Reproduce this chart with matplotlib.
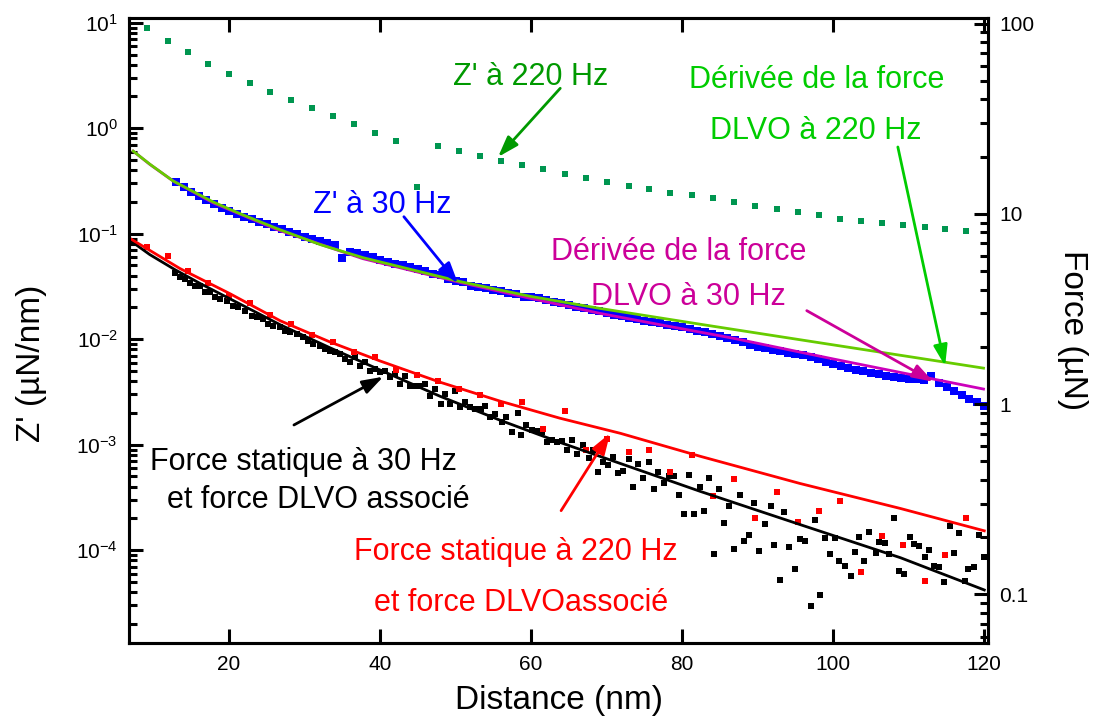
import matplotlib

matplotlib.use("Agg")
import matplotlib.pyplot as plt
from matplotlib.ticker import FuncFormatter, LogLocator, NullFormatter

plt.rcParams["font.family"] = ["Liberation Sans", "DejaVu Sans"]
plt.rcParams["axes.unicode_minus"] = False

# --- mesures a 220 Hz (meme grille de distance pour Z' et la force) ---
x220 = [9.1, 11.9, 14.5, 17.2, 20.0, 22.8, 25.4, 28.2, 31.0, 33.8,
        36.6, 39.3, 42.1, 44.9, 47.7, 50.5, 53.2, 56.0, 58.8, 61.6,
        64.5, 67.3, 70.1, 72.9, 75.6, 78.4, 81.3, 84.1, 86.9, 89.7,
        92.6, 95.4, 98.1, 100.9, 103.7, 106.5, 109.3, 112.1, 114.8, 117.6]
z220 = [8.97, 6.77, 5.25, 4.10, 3.25, 2.68, 2.20, 1.84, 1.55, 1.31,
        1.10, 0.903, 0.759, 0.279, 0.676, 0.607, 0.544, 0.488, 0.448, 0.411,
        0.371, 0.340, 0.311, 0.286, 0.266, 0.244, 0.233, 0.219, 0.202, 0.183,
        0.172, 0.159, 0.152, 0.139, 0.133, 0.127, 0.122, 0.117, 0.112, 0.107]
f220 = [6.70, 6.02, 4.99, 4.31, 3.69, 3.39, 2.94, 2.63, 2.31, 2.11,
        1.89, 1.78, 1.52, 1.42, 1.33, 1.196, 1.122, 1.004, 1.021, 0.742,
        0.922, 0.575, 0.654, 0.560, 0.574, 0.442, 0.538, 0.331, 0.402, 0.251,
        0.345, 0.239, 0.273, 0.309, 0.131, 0.204, 0.183, 0.118, 0.162, 0.251]

# --- Z' a 30 Hz ---
x30z = list(range(13, 121))
z30 = [0.309, 0.278, 0.249, 0.228, 0.209, 0.192, 0.176, 0.165, 0.154, 0.145,
       0.137, 0.130, 0.123, 0.116, 0.110, 0.104, 0.0989, 0.0937, 0.0897, 0.0859,
       0.0823, 0.0787, 0.0594, 0.0676, 0.0662, 0.0634, 0.0607, 0.0568, 0.0544, 0.0521,
       0.0510, 0.0488, 0.0468, 0.0448, 0.0419, 0.0402, 0.0376, 0.0360, 0.0345, 0.0323,
       0.0310, 0.0303, 0.0290, 0.0284, 0.0272, 0.0266, 0.0254, 0.0249, 0.0244, 0.0233,
       0.0223, 0.0219, 0.0209, 0.0200, 0.0196, 0.0188, 0.0184, 0.0176, 0.0168, 0.0165,
       0.0158, 0.0154, 0.0148, 0.0145, 0.0142, 0.0136, 0.0133, 0.0130, 0.0124, 0.0119,
       0.0116, 0.0111, 0.0107, 0.0102, 0.00979, 0.00937, 0.00878, 0.00841, 0.00823, 0.00787,
       0.00770, 0.00738, 0.00722, 0.00707, 0.00676, 0.00648, 0.00607, 0.00581, 0.00556, 0.00533,
       0.00510, 0.00499, 0.00478, 0.00467, 0.00448, 0.00438, 0.00429, 0.00419, 0.00419, 0.00410,
       0.00448, 0.00385, 0.00352, 0.00323, 0.00296, 0.00272, 0.00254, 0.00233]

# --- force statique a 30 Hz ---
x30f = [12.9, 13.5, 14.2, 14.8, 15.5, 16.2, 16.8, 17.5, 18.2, 18.8,
        19.7, 20.5, 21.2, 22.1, 23.1, 23.7, 24.5, 25.2, 25.8, 26.8,
        27.4, 28.1, 29.0, 29.8, 30.5, 31.1, 32.1, 32.7, 33.4, 34.0,
        34.7, 35.4, 36.0, 36.7, 37.4, 38.0, 38.7, 39.3, 40.0, 40.7,
        41.3, 42.0, 42.7, 43.3, 44.0, 44.6, 45.3, 46.0, 46.6, 47.3,
        48.0, 48.6, 49.3, 49.9, 50.6, 51.3, 51.9, 52.6, 53.3, 53.9,
        54.6, 55.2, 56.2, 56.7, 57.4, 58.2, 58.7, 59.3, 60.1, 60.8,
        61.5, 62.1, 62.8, 63.4, 64.1, 64.8, 65.4, 66.1, 66.9, 67.6,
        68.2, 68.9, 69.5, 70.2, 70.9, 71.5, 72.2, 72.9, 73.5, 74.2,
        74.8, 75.6, 76.3, 76.8, 77.6, 78.3, 78.9, 79.6, 80.3, 80.9,
        81.6, 82.3, 82.9, 83.6, 84.2, 84.9, 85.6, 86.2, 86.9, 87.6,
        88.2, 88.9, 89.5, 90.2, 91.0, 91.7, 92.2, 92.9, 93.5, 94.2,
        95.0, 95.6, 96.2, 97.0, 97.6, 98.2, 98.9, 99.6, 100.3, 100.8,
        101.6, 102.3, 102.9, 103.4, 104.1, 104.8, 105.6, 106.1, 106.8, 107.4,
        108.1, 108.7, 109.4, 110.1, 110.7, 111.4, 112.1, 112.7, 113.4, 114.0,
        114.7, 115.4, 116.0, 116.7, 117.4, 117.9, 118.7, 119.3, 120.0]
f30 = [4.91, 4.68, 4.57, 4.35, 4.20, 4.20, 3.90, 3.90, 3.67, 3.58,
       3.50, 3.29, 3.25, 3.10, 2.91, 2.88, 2.81, 2.64, 2.58, 2.55,
       2.43, 2.40, 2.34, 2.26, 2.15, 2.07, 2.02, 1.95, 1.90, 1.88,
       1.84, 1.73, 1.67, 1.77, 1.59, 1.67, 1.49, 1.53, 1.48, 1.49,
       1.39, 1.44, 1.28, 1.41, 1.25, 1.25, 1.25, 1.28, 1.10, 1.20,
       1.00, 1.13, 1.00, 1.17, 0.964, 1.03, 0.964, 0.941, 0.941, 0.976,
       0.854, 0.886, 0.804, 0.854, 0.711, 0.897, 0.686, 0.775, 0.729, 0.720,
       0.711, 0.630, 0.646, 0.630, 0.638, 0.572, 0.646, 0.545, 0.608, 0.519,
       0.572, 0.438, 0.494, 0.477, 0.525, 0.433, 0.443, 0.513, 0.365, 0.482,
       0.407, 0.494, 0.360, 0.438, 0.383, 0.417, 0.417, 0.335, 0.266, 0.422,
       0.266, 0.369, 0.276, 0.407, 0.164, 0.360, 0.238, 0.290, 0.174, 0.335,
       0.192, 0.206, 0.304, 0.170, 0.235, 0.290, 0.183, 0.119, 0.272, 0.178,
       0.136, 0.196, 0.192, 0.087, 0.247, 0.0994, 0.199, 0.164, 0.199, 0.150,
       0.141, 0.125, 0.168, 0.201, 0.150, 0.214, 0.166, 0.189, 0.187, 0.164,
       0.253, 0.133, 0.128, 0.201, 0.185, 0.180, 0.158, 0.172, 0.141, 0.140,
       0.116, 0.230, 0.166, 0.211, 0.118, 0.136, 0.140, 0.206, 0.158]

# --- courbes DLVO ---
deriv220_x = [7.3, 9.5, 12.6, 17.9, 21.5, 26.4, 32.1, 37.7, 50.6, 59.9,
              69.1, 84.1, 95.6, 107.5, 119.9]
deriv220_z = [0.607, 0.457, 0.316, 0.200, 0.1545, 0.1115, 0.0788, 0.0594, 0.0352, 0.0255,
              0.0196, 0.01327, 0.00989, 0.0073, 0.00532]
deriv30_x = [7.3, 9.5, 12.6, 17.9, 26.4, 37.7, 50.6, 59.9, 69.1, 77.5,
             86.8, 100.0, 113.2, 119.9]
deriv30_z = [0.607, 0.455, 0.316, 0.196, 0.109, 0.0581, 0.0345, 0.0244, 0.01759, 0.01355,
             0.0102, 0.0065, 0.0042, 0.00337]
dlvo30_x = [6.9, 9.5, 12.8, 16.2, 20.1, 26.8, 33.4, 40.0, 47.9, 55.9,
            63.8, 71.8, 82.4, 95.6, 108.9, 120.0]
dlvo30_f = [7.25, 6.11, 5.10, 4.30, 3.58, 2.61, 1.975, 1.512, 1.102, 0.823,
            0.630, 0.488, 0.348, 0.233, 0.156, 0.1056]
dlvo220_x = [6.9, 13.5, 20.1, 26.8, 33.4, 40.0, 47.9, 55.9, 63.8, 71.8,
             82.4, 95.6, 108.9, 120.0]
dlvo220_f = [7.42, 5.16, 3.81, 2.74, 2.12, 1.686, 1.306, 1.037, 0.844, 0.703,
             0.532, 0.383, 0.283, 0.216]

fig = plt.figure(figsize=(10.96, 7.28), dpi=100)
ax = fig.add_axes([0.1177, 0.1168, 0.7838, 0.8585])
ax2 = ax.twinx()

ax.plot(x30z, z30, "s", color="#0000ff", ms=5.8, mew=0)
ax.plot(deriv30_x, deriv30_z, color="#cc00bb", lw=2)
ax.plot(deriv220_x, deriv220_z, color="#66cc00", lw=2)
ax.plot(x220, z220, "s", color="#009650", ms=5.0, mew=0)

ax2.plot(x30f, f30, "s", color="black", ms=5.0, mew=0)
ax2.plot(x220, f220, "s", color="#ff0000", ms=5.0, mew=0)
ax2.plot(dlvo30_x, dlvo30_f, color="black", lw=2)
ax2.plot(dlvo220_x, dlvo220_f, color="#ff0000", lw=2)

ax.set_xlim(6.75, 120.5)
ax.set_yscale("log")
ax2.set_yscale("log")
ax.set_ylim(1.32e-5, 11.1)
ax2.set_ylim(0.0556, 107)

ax.set_xticks([20, 40, 60, 80, 100, 120])
ax.tick_params(axis="x", direction="in", top=True, length=10, width=2.2,
               labelsize=15, pad=9)
for a in (ax, ax2):
    a.yaxis.set_major_locator(LogLocator(base=10, numticks=20))
    a.yaxis.set_minor_locator(LogLocator(base=10, subs=range(2, 10), numticks=20))
    a.yaxis.set_minor_formatter(NullFormatter())
    a.tick_params(axis="y", which="major", direction="in", length=10, width=2.2,
                  labelsize=15, pad=8)
    a.tick_params(axis="y", which="minor", direction="in", length=5.5, width=2.2)
    for sp in a.spines.values():
        sp.set_linewidth(2.2)
ax.tick_params(axis="y", which="both", right=False)
ax2.yaxis.set_major_formatter(FuncFormatter(lambda v, p: f"{v:g}"))

ax.set_xlabel("Distance (nm)", fontsize=24)
ax.xaxis.set_label_coords(0.5, -0.068)
ax.set_ylabel("Z' (µN/nm)", fontsize=24)
ax.yaxis.set_label_coords(-0.095, 0.448)
ax2.set_ylabel("Force (µN)", fontsize=24, rotation=270, va="bottom")
ax2.yaxis.set_label_coords(1.08, 0.5)

# annotations (texte + fleche)
labels = [
    ("Z' à 220 Hz", 0.467, 0.906, "#009900"),
    ("Dérivée de la force", 0.801, 0.901, "#00cc00"),
    ("DLVO à 220 Hz", 0.800, 0.819, "#00cc00"),
    ("Z' à 30 Hz", 0.2945, 0.701, "#0000ff"),
    ("Dérivée de la force", 0.640, 0.626, "#cc0099"),
    ("DLVO à 30 Hz", 0.651, 0.554, "#cc0099"),
    ("Force statique à 30 Hz", 0.2026, 0.290, "black"),
    ("et force DLVO associé", 0.220, 0.229, "black"),
    ("Force statique à 220 Hz", 0.4505, 0.1456, "#ff0000"),
    ("et force DLVOassocié", 0.456, 0.064, "#ff0000"),
]
for txt, fx, fy, c in labels:
    ax2.text(fx, fy, txt, transform=ax2.transAxes, ha="center", va="center",
             fontsize=22, color=c)

arrows = [
    ((0.502, 0.8875), (0.4296, 0.7776), "#009900"),
    ((0.895, 0.7936), (0.950, 0.4432), "#00cc00"),
    ((0.320, 0.682), (0.383, 0.5755), "#0000ff"),
    ((0.789, 0.5317), (0.9363, 0.418), "#cc0099"),
    ((0.192, 0.3488), (0.296, 0.426), "black"),
    ((0.503, 0.2117), (0.560, 0.3355), "#ff0000"),
]
for tail, head, c in arrows:
    ax2.annotate("", xy=head, xytext=tail, xycoords="axes fraction",
                 textcoords="axes fraction",
                 arrowprops=dict(arrowstyle="-|>,head_length=0.9,head_width=0.3",
                                 color=c, lw=2, shrinkA=0, shrinkB=0,
                                 mutation_scale=14))

fig.savefig("out.png", dpi=100)
